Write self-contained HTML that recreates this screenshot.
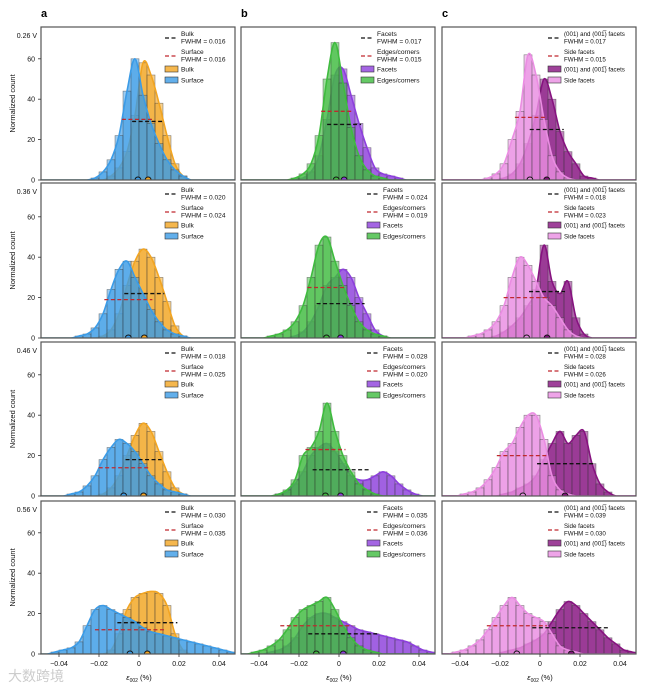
<!DOCTYPE html>
<html><head><meta charset="utf-8"><style>
html,body{margin:0;padding:0;background:#fff;}
svg{display:block;font-family:"Liberation Sans",Arial,sans-serif;}
</style></head><body>
<svg id="chart" width="651" height="687" viewBox="0 0 651 687" xmlns="http://www.w3.org/2000/svg"></svg>
<script>
// bin centers (strain %)
const binCenters=[-0.046,-0.042,-0.038,-0.034,-0.030,-0.026,-0.022,-0.018,-0.014,-0.010,-0.006,-0.002,0.002,0.006,0.010,0.014,0.018,0.022,0.026,0.030,0.034,0.038,0.042,0.046];
const voltages=["0.26 V","0.36 V","0.46 V","0.56 V"];
const xTicks=[-0.04,-0.02,0,0.02,0.04];
const xTickLabels=["\u22120.04","\u22120.02","0","0.02","0.04"];
const yTicks=[0,20,40,60];
// column a: bulk (A) / surface (B)
const a1A=[0,0,0,0,0,0,0,0,2,6,14,32,58,52,38,22,8,2,0,0,0,0,0,0];
const a1B=[0,0,0,0,0,0,1,4,10,22,44,60,42,28,18,10,5,2,0,0,0,0,0,0];
const a2A=[0,0,0,0,0,0,0,1,4,12,26,38,44,40,30,18,6,1,0,0,0,0,0,0];
const a2B=[0,0,0,0,1,2,5,12,24,34,38,30,22,14,8,4,2,1,0,0,0,0,0,0];
const a3A=[0,0,0,0,0,0,0,1,4,10,20,30,36,32,22,12,4,1,0,0,0,0,0,0];
const a3B=[0,0,0,1,2,5,10,18,24,28,26,22,16,10,6,3,2,1,0,0,0,0,0,0];
const a4A=[0,0,0,0,0,0,0,0,2,10,22,28,30,31,30,24,10,2,0,0,0,0,0,0];
const a4B=[0,1,2,3,6,14,22,24,22,20,18,16,13,11,10,9,8,7,6,5,4,3,2,1];
// column b: facets (A) / edges-corners (B)
const b1A=[0,0,0,0,0,0,0,1,4,12,30,52,55,42,28,16,6,3,2,1,0,0,0,0];
const b1B=[0,0,0,0,0,0,1,3,8,22,50,68,48,26,12,5,2,1,0,0,0,0,0,0];
const b2A=[0,0,0,0,0,0,1,3,8,16,26,30,34,30,20,12,4,1,0,0,0,0,0,0];
const b2B=[0,0,0,1,2,4,8,16,30,46,50,38,26,16,8,4,2,1,0,0,0,0,0,0];
const b3A=[0,0,0,0,1,2,6,12,20,24,26,22,16,10,8,8,10,12,10,6,3,1,0,0];
const b3B=[0,0,0,0,1,3,8,20,24,32,46,32,20,12,6,3,1,0,0,0,0,0,0,0];
const b4A=[0,0,0,1,2,4,8,14,18,20,20,18,16,14,12,11,10,9,8,7,6,4,2,1];
const b4B=[0,1,2,4,7,12,18,22,24,26,28,22,14,8,4,2,1,0,0,0,0,0,0,0];
// column c: (001)/(00-1) facets (A) / side facets (B)
const c1A=[0,0,0,0,0,0,0,1,3,8,18,32,50,40,24,14,8,2,1,0,0,0,0,0];
const c1B=[0,0,0,0,0,1,3,8,20,34,62,52,30,12,4,1,0,0,0,0,0,0,0,0];
const c2A=[0,0,0,0,0,0,1,3,6,10,16,24,46,28,22,28,10,2,0,0,0,0,0,0];
const c2B=[0,0,0,1,2,4,8,16,30,40,36,28,20,16,10,4,1,0,0,0,0,0,0,0];
const c3A=[0,0,0,0,0,0,0,1,2,4,6,10,18,26,32,26,30,32,16,6,2,0,0,0];
const c3B=[0,0,1,2,4,8,14,22,26,34,40,40,28,10,3,1,0,0,0,0,0,0,0,0];
const c4A=[0,0,0,0,0,0,0,1,2,3,5,7,10,16,22,26,24,20,16,12,8,5,2,1];
const c4B=[0,1,2,4,7,12,18,24,28,24,20,18,16,10,4,2,1,0,0,0,0,0,0,0];
// FWHM values
const fwhmA_a=[0.016,0.020,0.018,0.030], fwhmB_a=[0.016,0.024,0.025,0.035];
const fwhmA_b=[0.017,0.024,0.028,0.035], fwhmB_b=[0.015,0.019,0.020,0.036];
const fwhmA_c=[0.017,0.018,0.028,0.039], fwhmB_c=[0.015,0.023,0.026,0.030];

const svg=document.getElementById('chart');
const NS='http://www.w3.org/2000/svg';
function mk(tag,attrs,parent){const e=document.createElementNS(NS,tag);for(const k in attrs)e.setAttribute(k,attrs[k]);(parent||svg).appendChild(e);return e;}
function txt(x,y,s,attrs,parent){const t=mk('text',Object.assign({x:x,y:y},attrs||{}),parent);t.textContent=s;return t;}

const colLeft=[41,241,442], panelW=194;
const rowTop=[27,183,342,501], rowBottom=[180,338,496,654];
const xMin=-0.049,xMax=0.048,binW=0.004,yPerUnit=2.02;
function sx(c,v){return colLeft[c]+(v-xMin)/(xMax-xMin)*panelW;}
function sy(r,v){return rowBottom[r]-v*yPerUnit;}

const cols=[
 {A:[a1A,a2A,a3A,a4A],B:[a1B,a2B,a3B,a4B],fA:fwhmA_a,fB:fwhmB_a,colA:'#f2a522',colB:'#3b9be6',nA:'Bulk',nB:'Surface',lA:'Bulk',lB:'Surface',key:'a'},
 {A:[b1A,b2A,b3A,b4A],B:[b1B,b2B,b3B,b4B],fA:fwhmA_b,fB:fwhmB_b,colA:'#8d3fdc',colB:'#3fbb3f',nA:'Facets',nB:'Edges/corners',lA:'Facets',lB:'Edges/corners',key:'b'},
 {A:[c1A,c2A,c3A,c4A],B:[c1B,c2B,c3B,c4B],fA:fwhmA_c,fB:fwhmB_c,colA:'#86127f',colB:'#ea8de2',nA:'(001) and (001\u0305) facets',nB:'Side facets',lA:'(001) and (001\u0305) facets',lB:'Side facets',key:'c'}
];

function curvePath(c,r,vals){
  const pts=[[sx(c,binCenters[0]-binW),sy(r,0)]];
  vals.forEach((v,i)=>pts.push([sx(c,binCenters[i]),sy(r,v)]));
  pts.push([sx(c,binCenters[vals.length-1]+binW),sy(r,0)]);
  let d='M'+pts[0][0].toFixed(1)+','+pts[0][1].toFixed(1);
  for(let i=0;i<pts.length-1;i++){
    const p0=pts[Math.max(0,i-1)],p1=pts[i],p2=pts[i+1],p3=pts[Math.min(pts.length-1,i+2)];
    const c1=[p1[0]+(p2[0]-p0[0])/6,Math.min(sy(r,0),p1[1]+(p2[1]-p0[1])/6)];
    const c2=[p2[0]-(p3[0]-p1[0])/6,Math.min(sy(r,0),p2[1]-(p3[1]-p1[1])/6)];
    d+=' C'+c1[0].toFixed(1)+','+c1[1].toFixed(1)+' '+c2[0].toFixed(1)+','+c2[1].toFixed(1)+' '+p2[0].toFixed(1)+','+p2[1].toFixed(1);
  }
  return d;
}
function meanOf(vals){let s=0,w=0;vals.forEach((v,i)=>{s+=v*binCenters[i];w+=v;});return s/w;}

function drawSeries(c,r,vals,color,g,name){
  const sg=mk('g',{},g);
  
  
  const area=mk('path',{d:curvePath(c,r,vals)+' Z',fill:color,'fill-opacity':0.65,stroke:'none'},sg);
  
  
  vals.forEach((v,i)=>{
    if(v<=0)return;
    const x0=sx(c,binCenters[i]-binW/2),x1=sx(c,binCenters[i]+binW/2);
    const b=mk('rect',{x:x0.toFixed(1),y:sy(r,v).toFixed(1),width:(x1-x0).toFixed(1),height:(v*yPerUnit).toFixed(1),fill:color,'fill-opacity':0.5,stroke:'#333','stroke-opacity':0.6,'stroke-width':0.6},sg);
    
    
  });
  const ln=mk('path',{d:curvePath(c,r,vals),fill:'none',stroke:color,'stroke-width':1.6},sg);
  
  
}

['a','b','c'].forEach((l,c)=>{const t=txt(colLeft[c],17,l,{'font-size':11,'font-weight':'bold',fill:'#000'});
  });

for(let c=0;c<3;c++){
 const C=cols[c];
 for(let r=0;r<4;r++){
  const g=mk('g',{});
  
  
  const clipId='clip'+c+r;
  const cp=mk('clipPath',{id:clipId},g);mk('rect',{x:colLeft[c],y:rowTop[r],width:panelW,height:rowBottom[r]-rowTop[r]},cp);
  const pg=mk('g',{'clip-path':'url(#'+clipId+')'},g);
  const vA=C.A[r],vB=C.B[r];
  drawSeries(c,r,vA,C.colA,pg,'series-a');
  drawSeries(c,r,vB,C.colB,pg,'series-b');
  const mA=meanOf(vA),mB=meanOf(vB);
  const hA=Math.max(...vA)/2,hB=Math.max(...vB)/2;
  const fa=mk('line',{x1:sx(c,mA-C.fA[r]/2),x2:sx(c,mA+C.fA[r]/2),y1:sy(r,hA),y2:sy(r,hA),stroke:'#111','stroke-width':1.3,'stroke-dasharray':'4,2.5'},pg);
  
  const fb=mk('line',{x1:sx(c,mB-C.fB[r]/2),x2:sx(c,mB+C.fB[r]/2),y1:sy(r,hB),y2:sy(r,hB),stroke:'#c0282e','stroke-width':1.3,'stroke-dasharray':'4,2.5'},pg);
  
  [[mB,C.colB],[mA,C.colA]].forEach(([m,col])=>{
   const ci=mk('circle',{cx:sx(c,m),cy:rowBottom[r],r:3,fill:col,stroke:'#111','stroke-width':0.9},pg);
   
  });
  const fr=mk('rect',{x:colLeft[c],y:rowTop[r],width:panelW,height:rowBottom[r]-rowTop[r],fill:'none',stroke:'#555','stroke-width':1.2},g);
  
  const lx=colLeft[c]+(c==2?106:(c==1?(r==0?120:126):124)), ly=rowTop[r];
  const lg=mk('g',{'font-size':(c==2?6.2:6.6),fill:'#111'},g);
  
  const e1=mk('line',{x1:lx,x2:lx+13,y1:ly+11,y2:ly+11,stroke:'#111','stroke-width':1.3,'stroke-dasharray':'4,2.5'},lg);
  
  txt(lx+16,ly+9,C.nA,{},lg);txt(lx+16,ly+16.5,'FWHM = '+C.fA[r].toFixed(3),{},lg);
  const e2=mk('line',{x1:lx,x2:lx+13,y1:ly+29,y2:ly+29,stroke:'#c0282e','stroke-width':1.3,'stroke-dasharray':'4,2.5'},lg);
  
  txt(lx+16,ly+27,C.nB,{},lg);txt(lx+16,ly+34.5,'FWHM = '+C.fB[r].toFixed(3),{},lg);
  const s1=mk('rect',{x:lx,y:ly+39,width:13,height:6,fill:C.colA,'fill-opacity':0.8,stroke:'#333','stroke-width':0.6},lg);
  
  txt(lx+16,ly+44.5,C.lA,{},lg);
  const s2=mk('rect',{x:lx,y:ly+50,width:13,height:6,fill:C.colB,'fill-opacity':0.8,stroke:'#333','stroke-width':0.6},lg);
  
  txt(lx+16,ly+55.5,C.lB,{},lg);
  if(c==0){
   yTicks.forEach(t=>{
    mk('line',{x1:colLeft[0]-3,x2:colLeft[0],y1:sy(r,t),y2:sy(r,t),stroke:'#333','stroke-width':0.8},g);
    const tl=txt(colLeft[0]-6,sy(r,t)+2.5,String(t),{'font-size':7,'text-anchor':'end',fill:'#111'},g);
    
   });
   const vl=txt(colLeft[0]-4,rowTop[r]+11,voltages[r],{'font-size':7,'text-anchor':'end',fill:'#111'},g);
   
   const yt=txt(0,0,'Normalized count',{'font-size':7.5,'text-anchor':'middle',fill:'#111',transform:'translate(15,'+((rowTop[r]+rowBottom[r])/2)+') rotate(-90)'},g);
   
  }
  if(r==3){
   xTicks.forEach((t,i)=>{
    mk('line',{x1:sx(c,t),x2:sx(c,t),y1:rowBottom[3],y2:rowBottom[3]+3,stroke:'#333','stroke-width':0.8},g);
    const tl=txt(sx(c,t),rowBottom[3]+12,xTickLabels[i],{'font-size':7,'text-anchor':'middle',fill:'#111'},g);
    
   });
   const xt=mk('text',{x:sx(c,0),y:rowBottom[3]+26,'font-size':7.5,'text-anchor':'middle',fill:'#111'},g);
   
   xt.innerHTML='<tspan font-style="italic">\u03b5</tspan><tspan font-size="5" dy="2">002</tspan><tspan dy="-2"> (%)</tspan>';
  }
 }
}
const wm=txt(8,681,'\u5927\u6570\u8de8\u5883',{'font-size':14,fill:'#ccc','font-family':'"Liberation Sans","Noto Sans CJK SC",sans-serif'});

</script>
</body></html>
